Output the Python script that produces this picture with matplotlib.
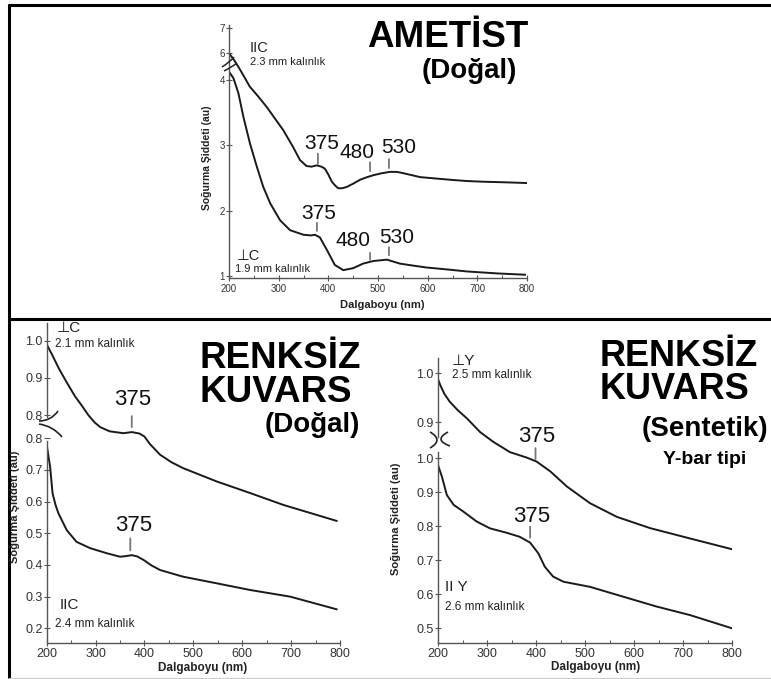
import numpy as np
import matplotlib
matplotlib.use("Agg")
import matplotlib.pyplot as plt
from matplotlib.lines import Line2D
from matplotlib.path import Path
from matplotlib.patches import PathPatch
from matplotlib.ticker import FixedLocator, FixedFormatter

plt.rcParams['font.family'] = ['Liberation Sans', 'DejaVu Sans']

# ---------------- DATA ----------------
# Top panel: AMETIST (natural)
ame_par_wl = [200, 210, 220, 230, 242, 259, 276, 292, 309, 329, 343, 356, 366, 377, 386, 393, 400,
              407, 414, 420, 428, 437, 450, 464, 478, 491, 508, 524, 538, 551, 568, 585, 615, 645,
              680, 712, 760, 799]
ame_par_val = [6.0, 4.3, 4.18, 4.05, 3.89, 3.74, 3.58, 3.41, 3.23, 2.97, 2.77, 2.68, 2.67, 2.69,
               2.67, 2.64, 2.55, 2.44, 2.38, 2.34, 2.34, 2.36, 2.41, 2.47, 2.51, 2.54, 2.57, 2.59,
               2.59, 2.57, 2.54, 2.51, 2.49, 2.47, 2.45, 2.44, 2.43, 2.42]
ame_perp_wl = [200, 209, 219, 229, 242, 256, 269, 283, 303, 323, 350, 365, 373, 383, 397, 413, 430,
               450, 470, 491, 518, 544, 570, 598, 640, 679, 740, 796]
ame_perp_val = [4.12, 4.02, 3.79, 3.43, 3.03, 2.67, 2.36, 2.11, 1.85, 1.70, 1.63, 1.62, 1.63, 1.59,
                1.40, 1.17, 1.09, 1.12, 1.19, 1.23, 1.25, 1.19, 1.16, 1.13, 1.10, 1.07, 1.04, 1.02]
ame_yticks = [1, 2, 3, 4, 6, 7]
ame_peaks_par = [379, 484, 522]
ame_peaks_perp = [377, 484, 522]
ame_peak_labels = ["375", "480", "530"]

# Bottom-left: RENKSIZ KUVARS (natural)
rkd_perp_wl = [200, 210, 225, 240, 258, 272, 285, 298, 310, 329, 357, 374, 390, 400, 411, 432, 455,
               479, 548, 616, 684, 793]
rkd_perp_val = [0.99, 0.965, 0.925, 0.89, 0.85, 0.825, 0.80, 0.78, 0.767, 0.756, 0.751, 0.754, 0.75,
                0.742, 0.722, 0.693, 0.673, 0.657, 0.621, 0.59, 0.558, 0.515]
rkd_par_wl = [200, 207, 212, 218, 224, 241, 261, 289, 323, 350, 362, 374, 385, 398, 415, 432, 479,
              548, 616, 698, 793]
rkd_par_val = [0.779, 0.71, 0.626, 0.59, 0.563, 0.51, 0.473, 0.453, 0.437, 0.426, 0.428, 0.431,
               0.427, 0.416, 0.398, 0.384, 0.363, 0.342, 0.321, 0.30, 0.26]
rkd_yticks_up = [0.8, 0.9, 1.0]
rkd_yticks_low = [0.2, 0.3, 0.4, 0.5, 0.6, 0.7, 0.8]
rkd_peak_perp = 374
rkd_peak_par = 371

# Bottom-right: RENKSIZ KUVARS (synthetic, Y-bar)
rks_perp_wl = [200, 205, 213, 224, 240, 259, 286, 313, 347, 381, 401, 429, 463, 510, 565, 633, 714, 800]
rks_perp_val = [0.988, 0.975, 0.958, 0.942, 0.925, 0.908, 0.880, 0.860, 0.839, 0.828, 0.82, 0.80,
                0.769, 0.735, 0.707, 0.684, 0.663, 0.641]
rks_par_wl = [200, 208, 218, 232, 252, 279, 306, 340, 367, 388, 405, 418, 435, 456, 510, 578, 646, 714, 800]
rks_par_val = [0.98, 0.946, 0.892, 0.863, 0.843, 0.814, 0.794, 0.781, 0.769, 0.752, 0.72, 0.681,
               0.652, 0.637, 0.622, 0.593, 0.564, 0.539, 0.50]
rks_yticks_up = [0.9, 1.0]
rks_yticks_low = [0.5, 0.6, 0.7, 0.8, 0.9, 1.0]
rks_peak_perp = 399
rks_peak_par = 388

x_ticks = [200, 300, 400, 500, 600, 700, 800]
x_minor = [250, 350, 450, 550, 650, 750]

# ---------------- LAYOUT HELPERS ----------------
W, H = 771, 679
fig = plt.figure(figsize=(W / 100, H / 100), dpi=100)
fig.patch.set_facecolor('white')

SPINE = '#555555'
TXT = '#333333'
CURVE = '#1a1a1a'


def rect(l, t, r, b):
    return [l / W, 1 - b / H, (r - l) / W, (b - t) / H]


def lims(va, pa, vb, pb, p_bottom, p_top):
    s = (vb - va) / (pb - pa)
    return va + (p_bottom - pa) * s, va + (p_top - pa) * s


def fline(xs, ys, lw=1.3, color='black'):
    fig.add_artist(Line2D([x / W for x in xs], [1 - y / H for y in ys], transform=fig.transFigure,
                          color=color, lw=lw, solid_capstyle='butt'))


def fcurve(pts, lw=1.1, color='#222222'):
    verts = [(x / W, 1 - y / H) for x, y in pts]
    p = Path(verts, [Path.MOVETO, Path.CURVE3, Path.CURVE3])
    fig.add_artist(PathPatch(p, transform=fig.transFigure, fill=False, lw=lw, color=color))


def ftext(x, y, s, **kw):
    fig.text(x / W, 1 - y / H, s, **kw)


def base_style(ax, fs, xpad):
    for s in ['top', 'right']:
        ax.spines[s].set_visible(False)
    for s in ['left', 'bottom']:
        ax.spines[s].set_color(SPINE)
        ax.spines[s].set_linewidth(1.0)
    ax.patch.set_visible(False)
    ax.set_xlim(200, 800)
    ax.xaxis.set_major_locator(FixedLocator(x_ticks))
    ax.xaxis.set_minor_locator(FixedLocator(x_minor))
    ax.tick_params(axis='x', which='major', direction='inout', length=4, width=0.8, color=SPINE,
                   labelsize=fs, labelcolor=TXT, pad=xpad)
    ax.tick_params(axis='x', which='minor', direction='in', length=2, width=0.7, color=SPINE)
    ax.tick_params(axis='y', which='major', direction='inout', length=4, width=0.8, color=SPINE,
                   labelsize=fs, labelcolor=TXT, pad=1)


def set_yticks(ax, ticks, fmt):
    ax.yaxis.set_major_locator(FixedLocator(ticks))
    ax.yaxis.set_major_formatter(FixedFormatter([fmt.format(t) for t in ticks]))
    ax.yaxis.set_minor_locator(FixedLocator([]))


def peak_mark(ax, wl_arr, val_arr, wl, label, dx, ylab, t0, t1, fs=15):
    yc = float(np.interp(wl, wl_arr, val_arr))
    ax.annotate('', xy=(wl, yc), xytext=(0, t1), textcoords='offset pixels',
                arrowprops=dict(arrowstyle='-', color='#777777', lw=1.3, shrinkA=0, shrinkB=t0 * 0.72))
    ax.annotate(label, xy=(wl, yc), xytext=(dx, ylab), textcoords='offset pixels',
                ha='center', va='center', fontsize=fs, color='#111111')


# ---------------- FRAME ----------------
fline([8, 771], [5, 5], lw=2.2)
fline([9, 9], [4, 679], lw=2.2)
fline([8, 771], [319, 319], lw=2.2)
fline([8, 771], [677.5, 677.5], lw=0.8, color='#cccccc')

# ---------------- TOP PANEL ----------------
BV = [0.0, 4.3, 5.74, 10.0]
BF = [0.0, 4.3, 4.301, 4.301 + 0.391 * (10.0 - 5.74)]


def fwd(y):
    return np.interp(y, BV, BF)


def inv(f):
    return np.interp(f, BF, BV)


ax_t = fig.add_axes(rect(229, 25, 527, 278))
base_style(ax_t, 7, 2.5)
ax_t.set_yscale('function', functions=(fwd, inv))
top_f = 0.97 + (278 - 25) / 65.5
ax_t.set_ylim(0.97, float(inv(top_f)))
set_yticks(ax_t, ame_yticks, '{:d}')
ax_t.plot(ame_par_wl, ame_par_val, color=CURVE, lw=1.4)
ax_t.plot(ame_perp_wl, ame_perp_val, color=CURVE, lw=1.4)
par_off = [(4, 22, 2, 12), (-13, 24, 5, 14), (10, 24.5, 4, 13)]
perp_off = [(2, 22, 5, 13), (-17, 21, 2, 9), (8, 23, 5, 13)]
for wl, lab, (dx, yl, t0, t1) in zip(ame_peaks_par, ame_peak_labels, par_off):
    peak_mark(ax_t, ame_par_wl, ame_par_val, wl, lab, dx, yl, t0, t1)
for wl, lab, (dx, yl, t0, t1) in zip(ame_peaks_perp, ame_peak_labels, perp_off):
    peak_mark(ax_t, ame_perp_wl, ame_perp_val, wl, lab, dx, yl, t0, t1)

# break marks
fcurve([(222, 67), (230, 62), (234, 57)], lw=1.1)
fcurve([(224, 71), (232, 67), (237, 63)], lw=1.1)

ftext(367, 47, 'AMETİST', fontsize=26.5, fontweight='bold', ha='left', va='baseline')
ftext(422, 78, '(Doğal)', fontsize=20, fontweight='bold', ha='left', va='baseline')
ftext(250, 48, 'IIC', fontsize=10.5, ha='left', va='center', color='#222222')
ftext(250, 62, '2.3 mm kalınlık', fontsize=8, ha='left', va='center', color='#222222')
ftext(237, 256, '⊥C', fontsize=10.5, ha='left', va='center', color='#222222')
ftext(235, 269, '1.9 mm kalınlık', fontsize=8, ha='left', va='center', color='#222222')
ftext(382, 305, 'Dalgaboyu (nm)', fontsize=8, fontweight='bold', ha='center', va='center', color='#222222')
ftext(207, 158, 'Soğurma Şiddeti (au)', fontsize=7.5, fontweight='bold', rotation=90,
      ha='center', va='center', color='#222222')

# ---------------- BOTTOM LEFT ----------------
r_bl = rect(46.7, 323, 340, 643.3)
axl_low = fig.add_axes(r_bl)
base_style(axl_low, 9, 1.5)
yl_low = lims(0.2, 628.3, 0.8, 438.3, 643.3, 323)
axl_low.set_ylim(*yl_low)
set_yticks(axl_low, rkd_yticks_low, '{:.1f}')
axl_low.spines['left'].set_bounds(yl_low[0], 0.79)
axl_low.plot(rkd_par_wl, rkd_par_val, color=CURVE, lw=1.4)

axl_up = fig.add_axes(r_bl, sharex=axl_low)
base_style(axl_up, 9, 1.5)
axl_up.spines['bottom'].set_visible(False)
axl_up.tick_params(axis='x', which='both', bottom=False, labelbottom=False)
yl_up = lims(1.0, 340.7, 0.8, 415, 643.3, 323)
axl_up.set_ylim(*yl_up)
set_yticks(axl_up, rkd_yticks_up, '{:.1f}')
axl_up.spines['left'].set_bounds(0.795, yl_up[1])
axl_up.plot(rkd_perp_wl, rkd_perp_val, color=CURVE, lw=1.4)

peak_mark(axl_up, rkd_perp_wl, rkd_perp_val, rkd_peak_perp, '375', 1, 33, 5, 16, fs=16)
peak_mark(axl_low, rkd_par_wl, rkd_par_val, rkd_peak_par, '375', 3, 30, 5, 17, fs=16)

fcurve([(39, 421), (51, 421), (58, 411)], lw=1.2)
fcurve([(39, 424), (53, 426), (62, 437)], lw=1.2)

ftext(199, 367.5, 'RENKSİZ', fontsize=26.5, fontweight='bold', ha='left', va='baseline')
ftext(199, 402, 'KUVARS', fontsize=26.5, fontweight='bold', ha='left', va='baseline')
ftext(265, 432, '(Doğal)', fontsize=20, fontweight='bold', ha='left', va='baseline')
ftext(57, 328, '⊥C', fontsize=11, ha='left', va='center', color='#222222')
ftext(55, 344, '2.1 mm kalınlık', fontsize=8.5, ha='left', va='center', color='#222222')
ftext(60, 605, 'IIC', fontsize=11, ha='left', va='center', color='#222222')
ftext(55, 624, '2.4 mm kalınlık', fontsize=8.5, ha='left', va='center', color='#222222')
ftext(203, 668, 'Dalgaboyu (nm)', fontsize=8.5, fontweight='bold', ha='center', va='center', color='#222222')
ftext(15, 507, 'Soğurma Şiddeti (au)', fontsize=8, fontweight='bold', rotation=90,
      ha='center', va='center', color='#222222')

# ---------------- BOTTOM RIGHT ----------------
r_br = rect(438, 358, 732, 643.3)
axr_low = fig.add_axes(r_br)
base_style(axr_low, 9, 1.5)
yr_low = lims(0.5, 628.3, 1.0, 458.3, 643.3, 358)
axr_low.set_ylim(*yr_low)
set_yticks(axr_low, rks_yticks_low, '{:.1f}')
axr_low.spines['left'].set_bounds(yr_low[0], 1.02)
axr_low.plot(rks_par_wl, rks_par_val, color=CURVE, lw=1.4)

axr_up = fig.add_axes(r_br, sharex=axr_low)
base_style(axr_up, 9, 1.5)
axr_up.spines['bottom'].set_visible(False)
axr_up.tick_params(axis='x', which='both', bottom=False, labelbottom=False)
yr_up = lims(1.0, 373.3, 0.9, 422.3, 643.3, 358)
axr_up.set_ylim(*yr_up)
set_yticks(axr_up, rks_yticks_up, '{:.1f}')
axr_up.spines['left'].set_bounds(0.87, yr_up[1])
axr_up.plot(rks_perp_wl, rks_perp_val, color=CURVE, lw=1.4)

peak_mark(axr_up, rks_perp_wl, rks_perp_val, rks_peak_perp, '375', 1, 25, 2, 13, fs=16)
peak_mark(axr_low, rks_par_wl, rks_par_val, rks_peak_par, '375', 2, 26, 5, 16, fs=16)

fcurve([(430, 432), (444, 440), (430, 448)], lw=1.2)
fcurve([(448, 432), (433, 440), (450, 446)], lw=1.2)

ftext(600, 366, 'RENKSİZ', fontsize=26, fontweight='bold', ha='left', va='baseline')
ftext(600, 399, 'KUVARS', fontsize=26, fontweight='bold', ha='left', va='baseline')
ftext(642, 435.5, '(Sentetik)', fontsize=20, fontweight='bold', ha='left', va='baseline')
ftext(663, 463.5, 'Y-bar tipi', fontsize=14, fontweight='bold', ha='left', va='baseline')
ftext(452, 361, '⊥Y', fontsize=11, ha='left', va='center', color='#222222')
ftext(452, 375.5, '2.5 mm kalınlık', fontsize=8.5, ha='left', va='center', color='#222222')
ftext(445, 587, 'II Y', fontsize=11, ha='left', va='center', color='#222222')
ftext(445, 607, '2.6 mm kalınlık', fontsize=8.5, ha='left', va='center', color='#222222')
ftext(595.5, 667, 'Dalgaboyu (nm)', fontsize=8.5, fontweight='bold', ha='center', va='center', color='#222222')
ftext(396, 519, 'Soğurma Şiddeti (au)', fontsize=8, fontweight='bold', rotation=90,
      ha='center', va='center', color='#222222')

fig.savefig('out.png', dpi=100)
